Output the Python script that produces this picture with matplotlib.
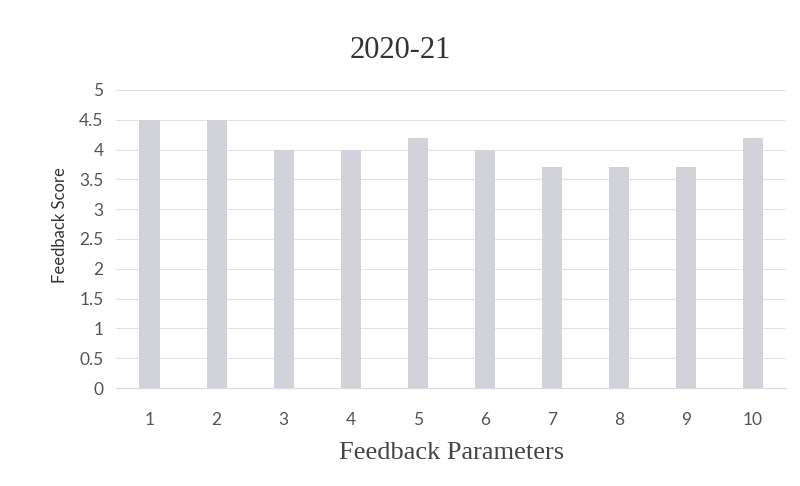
import matplotlib
matplotlib.use("Agg")
from matplotlib import pyplot as plt
import numpy as np

# data
params = [1, 2, 3, 4, 5, 6, 7, 8, 9, 10]
scores = [4.5, 4.5, 4.0, 4.0, 4.2, 4.0, 3.7, 3.7, 3.7, 4.2]
yticks = [0, 0.5, 1, 1.5, 2, 2.5, 3, 3.5, 4, 4.5, 5]

fig = plt.figure(figsize=(8, 4.86), dpi=100)
ax = fig.add_axes([0.145, 0.2016, 0.838, 0.6134])

x = np.arange(len(params))
ax.bar(x, scores, width=0.3, color='#d2d3da', zorder=3)

ax.set_xlim(-0.5, len(params) - 0.5)
ax.set_ylim(0, 5)
ax.set_yticks(yticks)
ax.set_yticklabels([('%g' % t) for t in yticks])
ax.set_xticks(x)
ax.set_xticklabels([str(p) for p in params])
ax.yaxis.grid(True, color='#e2e2e2', linewidth=0.8, zorder=0)

for s in ['top', 'right', 'left']:
    ax.spines[s].set_visible(False)
ax.spines['bottom'].set_color('#d9d9d9')
ax.tick_params(axis='both', length=0, colors='#555555', labelsize=12.5)
ax.tick_params(axis='y', pad=9)
ax.tick_params(axis='x', pad=17)
for lab in ax.get_xticklabels() + ax.get_yticklabels():
    lab.set_family('Lato')

ax.set_ylabel('Feedback Score', family='Lato', fontsize=12, color='#333333')
ax.yaxis.set_label_coords(-0.072, 0.545)
ax.set_xlabel('Feedback Parameters', family='Liberation Serif', fontsize=19, color='#444444', labelpad=10)
fig.text(0.5, 0.897, '2020-21', ha='center', va='center', family='Liberation Serif', fontsize=22, color='#333333')

plt.savefig('out.png', format="PNG")
